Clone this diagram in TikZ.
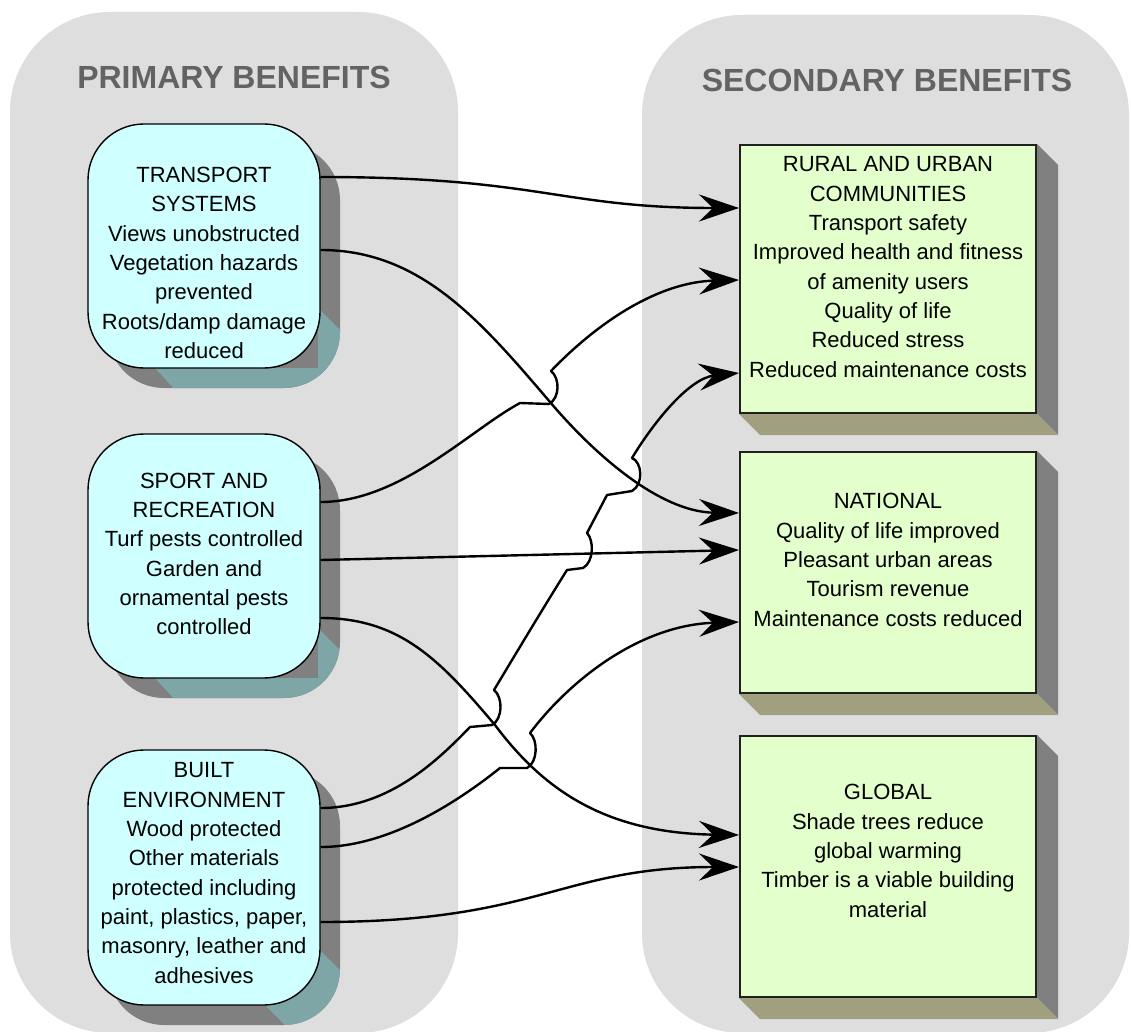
\documentclass[tikz,border=0pt]{standalone}
\usepackage{fontspec}
\setmainfont{Liberation Sans}
\usetikzlibrary{arrows.meta,calc}
\definecolor{panel}{HTML}{DEDEDE}
\definecolor{lcyan}{HTML}{CFFFFF}
\definecolor{lgreen}{HTML}{E2FFCC}
\definecolor{sidegray}{HTML}{808080}
\definecolor{tealshade}{HTML}{7FA6A6}
\definecolor{oliveshade}{HTML}{A09F80}
\definecolor{headgray}{HTML}{636363}
\definecolor{rborder}{HTML}{202020}
\begin{document}
\begin{tikzpicture}[x=1pt,y=-1pt,
  lbox/.style={draw=black, line width=1.4pt, fill=lcyan, rounded corners=56pt,
    minimum width=232pt, inner sep=0pt},
  rbox/.style={draw=rborder, line width=2pt, fill=lgreen,
    minimum width=296pt, inner sep=0pt},
  body/.style={align=center, font=\fontsize{22}{29.3}\selectfont, inner sep=0pt},
  head/.style={font=\fontsize{32}{32}\selectfont\bfseries, text=headgray},
  conn/.style={line width=2.4pt, line join=round,
    -{Stealth[length=40pt,width=27pt,inset=14pt]}}
]
\clip (0,0) rectangle (1131,1032);
\fill[white] (0,0) rectangle (1131,1032);

% the two grey panels
\fill[panel, rounded corners=100pt] (10,12) rectangle (458,1033);
\fill[panel, rounded corners=100pt] (642,15) rectangle (1129,1033);

\node[head] (h1) at (234,77) {PRIMARY BENEFITS};
\node[head] (h2) at (887,80) {SECONDARY BENEFITS};

% extruded shadows of the rounded boxes
\fill[sidegray, rounded corners=56pt] (108,144) rectangle (340,388);
\begin{scope}
  \clip[rounded corners=56pt] (108,144) rectangle (340,388);
  \fill[tealshade] (155,368) -- (177,392) -- (345,392) -- (345,335) -- (318,308) -- (318,368) -- cycle;
\end{scope}
\fill[sidegray, rounded corners=56pt] (108,454) rectangle (340,698);
\begin{scope}
  \clip[rounded corners=56pt] (108,454) rectangle (340,698);
  \fill[tealshade] (155,678) -- (177,702) -- (345,702) -- (345,655) -- (318,628) -- (318,678) -- cycle;
\end{scope}
\fill[sidegray, rounded corners=56pt] (108,770) rectangle (340,1025);
\begin{scope}
  \clip[rounded corners=56pt] (108,770) rectangle (340,1025);
  \fill[tealshade] (265,1005) -- (288,1028) -- (345,1028) -- (345,975) -- (320,950) -- (265,950) -- cycle;
\end{scope}

% primary benefit boxes
\node[lbox, minimum height=244pt] (b1) at (204,246) {};
\node[lbox, minimum height=244pt] (b2) at (204,556) {};
\node[lbox, minimum height=255pt] (b3) at (204,877.5) {};

\node[body] (t1) at (204,263) {TRANSPORT\\SYSTEMS\\Views unobstructed\\Vegetation hazards\\prevented\\Roots/damp damage\\reduced};
\node[body] (t2) at (204,554) {SPORT AND\\RECREATION\\Turf pests controlled\\Garden and\\ornamental pests\\controlled};
\node[body] (t3) at (204,873) {BUILT\\ENVIRONMENT\\Wood protected\\Other materials\\protected including\\paint, plastics, paper,\\masonry, leather and\\adhesives};

% secondary benefit boxes with their 3-D sides
\node[rbox, minimum height=268pt] (bA) at (888,279) {};
\node[rbox, minimum height=241pt] (bB) at (888,572.5) {};
\node[rbox, minimum height=261pt] (bC) at (888,866.5) {};
\foreach \b in {bA,bB,bC}{
  \fill[sidegray] (\b.north east) -- ++(21,21) -- ($(\b.south east)+(21,21)$) -- (\b.south east) -- cycle;
  \fill[oliveshade] (\b.south west) -- ++(21,21) -- ($(\b.south east)+(21,21)$) -- (\b.south east) -- cycle;
}

\node[body] (tA) at (888,267) {RURAL AND URBAN\\COMMUNITIES\\Transport safety\\Improved health and fitness\\of amenity users\\Quality of life\\Reduced stress\\Reduced maintenance costs};
\node[body] (tB) at (888,560) {NATIONAL\\Quality of life improved\\Pleasant urban areas\\Tourism revenue\\Maintenance costs reduced};
\node[body] (tC) at (888,851) {GLOBAL\\Shade trees reduce\\global warming\\Timber is a viable building\\material};

% connectors (with line jumps where they cross)
\draw[conn] (b1.east |- 0,177) .. controls (540,177) and (560,208) .. (bA.west |- 0,208);
\draw[conn] (b1.east |- 0,250) .. controls (420,250) and (480,320) .. (550,402)
  .. controls (595,455) and (660,512) .. (bB.west |- 0,513);
\draw[conn] (b2.east |- 0,502) .. controls (400,502) and (470,430) .. (520,403) -- (549,404)
  .. controls (560,398) and (560,378) .. (551,371)
  .. controls (600,320) and (660,282) .. (bA.west |- 0,280);
\draw[conn] (b2.east |- 0,560) -- (bB.west |- 0,550);
\draw[conn] (b2.east |- 0,618) .. controls (400,618) and (440,660) .. (495,725)
  .. controls (540,785) and (600,833) .. (bC.west |- 0,835);
\draw[conn] (b3.east |- 0,808) .. controls (390,808) and (440,758) .. (470,727) -- (492,725)
  .. controls (503,719) and (503,697) .. (494,690)
  .. controls (515,655) and (545,605) .. (567,570) -- (583,568)
  .. controls (594,562) and (594,540) .. (587,533) -- (607,495) -- (632,491)
  .. controls (644,484) and (642,462) .. (632,458)
  .. controls (655,420) and (690,378) .. (bA.west |- 0,373);
\draw[conn] (b3.east |- 0,847) .. controls (390,847) and (460,800) .. (500,768) -- (527,768)
  .. controls (538,762) and (538,740) .. (530,733)
  .. controls (570,680) and (640,625) .. (bB.west |- 0,622);
\draw[conn] (b3.east |- 0,922) .. controls (540,922) and (560,867) .. (bC.west |- 0,867);
\end{tikzpicture}
\end{document}
